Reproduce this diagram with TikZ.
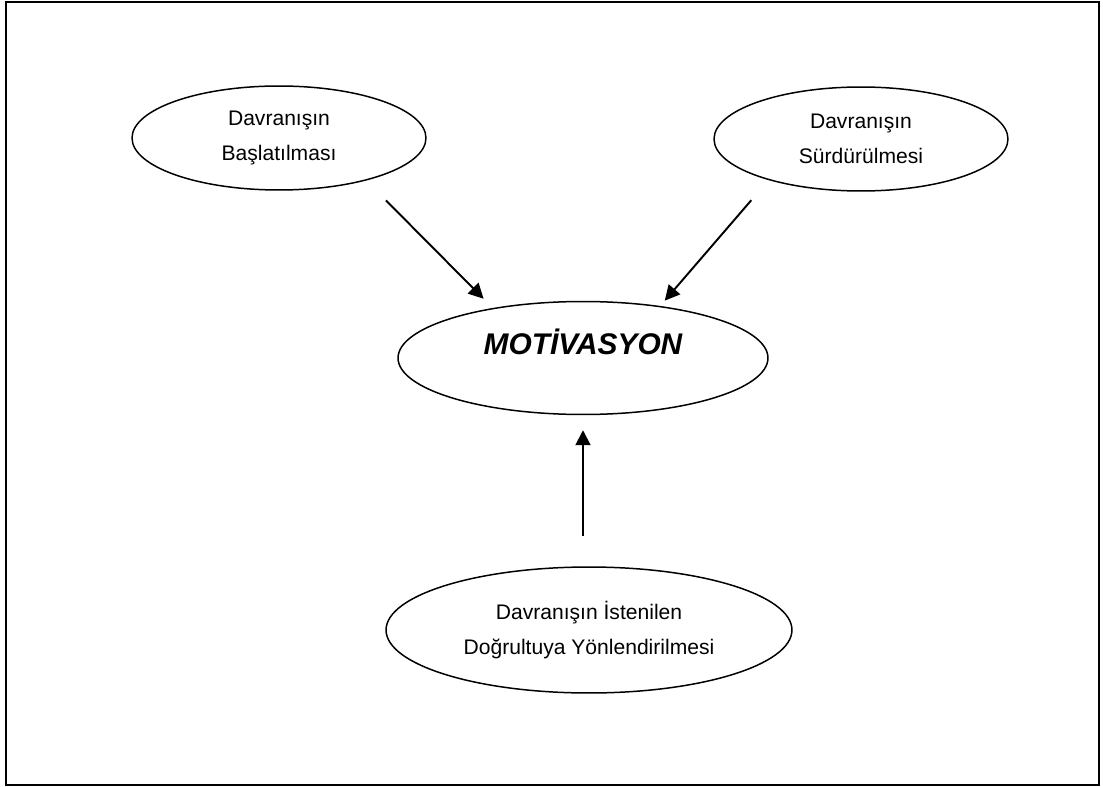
\documentclass[tikz,border=0pt]{standalone}
\usepackage{fontspec}
\setmainfont{Liberation Sans}
\usetikzlibrary{shapes.geometric,arrows.meta}

\begin{document}
\begin{tikzpicture}
        [x=0.02cm,y=-0.02cm,
         oval/.style={ellipse,draw,line width=0.85pt,inner sep=0pt,align=center,
           font=\fontsize{12}{20}\selectfont},
         push/.style={-{Triangle[length=0.3cm,width=0.3cm]},line width=1.1pt}]
        \useasboundingbox (0,0) rectangle (1103,787);
        \draw[line width=1.2pt] (6,2) rectangle (1099,785);

        \node[oval,minimum width=5.88cm,minimum height=2.08cm] (start) at (279,138) {Davranışın\\Başlatılması};
        \node[oval,minimum width=5.88cm,minimum height=2.08cm] (keep) at (861,139) {Davranışın\\Sürdürülmesi};
        \node[oval,minimum width=7.4cm,minimum height=2.26cm,
          font=\fontsize{17}{20}\selectfont\bfseries\itshape,
          text height=12pt,text depth=15.8pt] (motiv) at (583,358) {MOTİVASYON};
        \node[oval,minimum width=8.12cm,minimum height=2.52cm] (goal) at (589,630) {Davranışın İstenilen\\Doğrultuya Yönlendirilmesi};

        \draw[push,shorten <=0.56cm,shorten >=0.26cm] (start.-26) -- (motiv.151);
        \draw[push,shorten <=0.53cm,shorten >=0.14cm] (keep.204.6) -- (motiv.34.3);
        \draw[push,shorten <=0.6cm,shorten >=0.3cm] (motiv.south |- goal.north) -- (motiv.south);
      \end{tikzpicture}
\end{document}
